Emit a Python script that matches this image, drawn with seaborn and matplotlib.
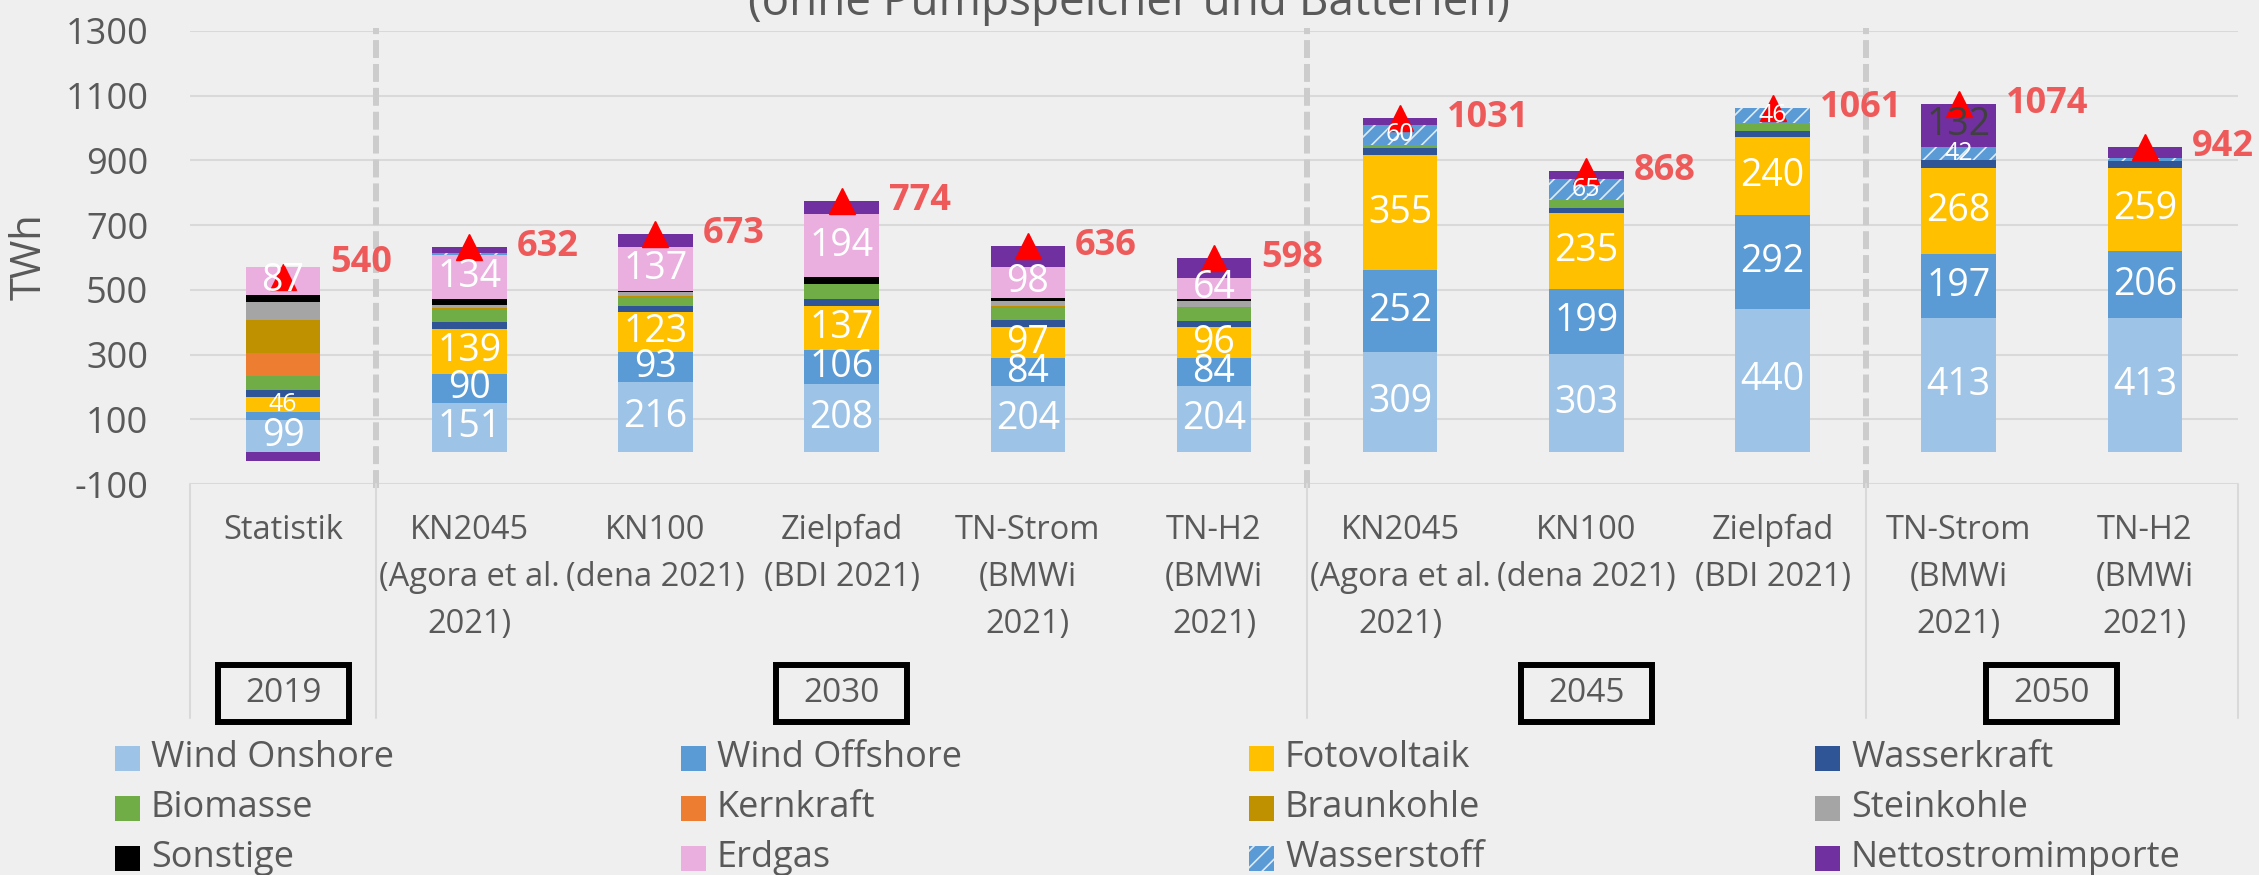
import numpy as np
import matplotlib
matplotlib.use("Agg")
import matplotlib.pyplot as plt
import matplotlib.transforms as mtransforms
from matplotlib.patches import Rectangle
from matplotlib.lines import Line2D
import seaborn as sns

# -----------------------
# Daten (TWh)
# -----------------------
szenarien = ["Statistik",
             "KN2045\n(Agora et al.\n2021)", "KN100\n(dena 2021)", "Zielpfad\n(BDI 2021)",
             "TN-Strom\n(BMWi\n2021)", "TN-H2\n(BMWi\n2021)",
             "KN2045\n(Agora et al.\n2021)", "KN100\n(dena 2021)", "Zielpfad\n(BDI 2021)",
             "TN-Strom\n(BMWi\n2021)", "TN-H2\n(BMWi\n2021)"]
jahre = ["2019", "2030", "2045", "2050"]
jahr_gruppen = [[0], [1, 2, 3, 4, 5], [6, 7, 8], [9, 10]]

wind_onshore = [99, 151, 216, 208, 204, 204, 309, 303, 440, 413, 413]
wind_offshore = [24, 90, 93, 106, 84, 84, 252, 199, 292, 197, 206]
fotovoltaik = [46, 139, 123, 137, 97, 96, 355, 235, 240, 268, 259]
wasserkraft = [20, 21, 18, 20, 21, 21, 21, 17, 20, 22, 21]
biomasse = [44, 40, 28, 46, 39, 39, 12, 25, 23, 0, 0]
kernkraft = [73, 0, 0, 0, 0, 0, 0, 0, 0, 0, 0]
braunkohle = [102, 3, 3, 0, 4, 4, 0, 0, 0, 0, 0]
steinkohle = [54, 9, 11, 0, 18, 18, 0, 0, 0, 0, 0]
sonstige = [21, 20, 4, 22, 7, 7, 0, 0, 0, 0, 0]
erdgas = [87, 134, 137, 194, 98, 64, 0, 0, 0, 0, 0]
wasserstoff = [0, 6, 0, 0, 0, 0, 60, 65, 46, 42, 9]
nettoimporte = [-30, 19, 40, 41, 64, 61, 22, 24, 0, 132, 34]
gesamt = [540, 632, 673, 774, 636, 598, 1031, 868, 1061, 1074, 942]

# name, werte, farbe, schraffur, beschriftung (min. Wert), textfarbe
serien = [
    ("Wind Onshore", wind_onshore, "#9DC3E6", None, 40, "white"),
    ("Wind Offshore", wind_offshore, "#5B9BD5", None, 40, "white"),
    ("Fotovoltaik", fotovoltaik, "#FFC000", None, 40, "white"),
    ("Wasserkraft", wasserkraft, "#2F5597", None, None, None),
    ("Biomasse", biomasse, "#70AD47", None, None, None),
    ("Kernkraft", kernkraft, "#ED7D31", None, None, None),
    ("Braunkohle", braunkohle, "#BF9000", None, None, None),
    ("Steinkohle", steinkohle, "#A5A5A5", None, None, None),
    ("Sonstige", sonstige, "#000000", None, None, None),
    ("Erdgas", erdgas, "#EAAEDF", None, 40, "white"),
    ("Wasserstoff", wasserstoff, "#5B9BD5", "//", 40, "white"),
    ("Nettostromimporte", nettoimporte, "#7030A0", None, 100, "#404040"),
]

# -----------------------
# Layout
# -----------------------
W, H = 2259, 875
bg = "#EFEFEF"
grau_text = "#595959"

sns.set_theme(style="white")
plt.rcParams["font.family"] = ["Open Sans", "DejaVu Sans"]
plt.rcParams["hatch.linewidth"] = 1.2
plt.rcParams["axes.unicode_minus"] = False

fig = plt.figure(figsize=(W / 100, H / 100), dpi=100, facecolor=bg)
ax = fig.add_axes([190 / W, 1 - 484 / H, 2048 / W, 453 / H])
ax.set_facecolor(bg)

pos = np.arange(len(szenarien))
oben_pos = np.zeros(len(pos))
oben_neg = np.zeros(len(pos))

for name, werte, farbe, schraffur, min_label, tfarbe in serien:
    werte = np.asarray(werte, dtype=float)
    unten = np.where(werte >= 0, oben_pos, oben_neg)
    kws = dict(edgecolor="#DDEBF7", hatch=schraffur) if schraffur else dict(edgecolor=farbe)
    sns.barplot(x=pos, y=werte, native_scale=True, width=0.4, color=farbe,
                saturation=1, bottom=unten, errorbar=None, linewidth=0,
                ax=ax, zorder=2, **kws)
    if min_label is not None:
        for i, v in enumerate(werte):
            if v >= min_label:
                klein = v < 50 or name == "Wasserstoff"
                ax.text(i, unten[i] + v / 2, f"{v:.0f}", ha="center", va="center",
                        color=tfarbe, fontsize=18 if klein else 27, zorder=6)
    oben_pos = oben_pos + np.clip(werte, 0, None)
    oben_neg = oben_neg + np.clip(werte, None, 0)

# Summen mit Marker
ax.plot(pos, gesamt, ls="none", marker="^", ms=19, color="#FF0000", zorder=5)
for i, v in enumerate(gesamt):
    dy = 10 if i == 0 else 0
    ax.annotate(str(v), (i, v), xytext=(34, dy), textcoords="offset points",
                ha="left", va="center", color="#EE5A5A", fontsize=26,
                fontweight="bold", zorder=6)

# Achsen
ax.set_xlim(-0.5, len(pos) - 0.5)
ax.set_ylim(-100, 1300)
ax.set_yticks(np.arange(-100, 1301, 200))
ax.set_xticks([])
ax.set_xlabel("")
ax.yaxis.grid(True, color="#D9D9D9", lw=1.5)
ax.set_axisbelow(True)
for s in ax.spines.values():
    s.set_visible(False)
ax.tick_params(axis="y", length=0, pad=30, labelsize=26, labelcolor=grau_text)

fig.text(30 / W, 1 - 257 / H, "TWh", rotation=90, ha="center", va="center",
         fontsize=30, color=grau_text)

# Trennlinien zwischen den Jahren
grenzen = [0.5, 5.5, 8.5]
ax.vlines(grenzen, -112, 1310, colors="#CCCCCC", lw=4.3,
          linestyles=(0, (3, 1)), clip_on=False, zorder=1)

# Kategorienachse (zweistufig)
blend = mtransforms.blended_transform_factory(ax.transData, fig.transFigure)
for i, lab in enumerate(szenarien):
    fig.text(i, 1 - 514 / H, lab, transform=blend, ha="center", va="top",
             fontsize=23.5, color=grau_text, linespacing=1.56)

for x in [-0.5] + grenzen + [len(pos) - 0.5]:
    fig.add_artist(Line2D([x, x], [1 - 484 / H, 1 - 718 / H], transform=blend,
                          color="#D9D9D9", lw=1.5))

for jahr, gruppe in zip(jahre, jahr_gruppen):
    xc = np.mean(gruppe)
    fig.add_artist(Rectangle((xc - 0.352, 1 - 721.5 / H), 0.704, 57 / H,
                             transform=blend, fill=False, ec="black", lw=4.3))
    fig.text(xc, 1 - 693 / H, jahr, transform=blend, ha="center", va="center",
             fontsize=24, color=grau_text)

# Titel (oben abgeschnitten wie im Original)
fig.text(0.5, 1 - 15 / H, "(ohne Pumpspeicher und Batterien)", ha="center",
         va="baseline", fontsize=33, color=grau_text)

# Legende
spalten_x = [115, 681, 1249, 1815]
zeilen_y = [758, 808, 858]
for k, (name, werte, farbe, schraffur, _, _) in enumerate(serien):
    x0, yc = spalten_x[k % 4], zeilen_y[k // 4]
    rect = Rectangle((x0 / W, 1 - (yc + 12.5) / H), 25 / W, 25 / H,
                     transform=fig.transFigure, fc=farbe, lw=0,
                     ec="#DDEBF7" if schraffur else farbe, hatch=schraffur)
    fig.add_artist(rect)
    fig.text((x0 + 36) / W, 1 - yc / H, name, ha="left", va="center",
             fontsize=26, color=grau_text)

fig.savefig("out.png", dpi=100, facecolor=bg)
